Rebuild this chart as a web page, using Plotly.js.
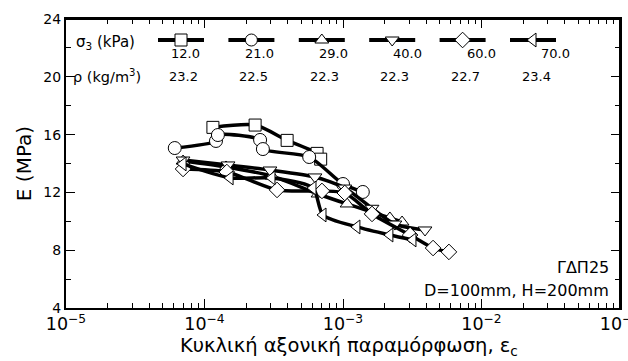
<!DOCTYPE html>
<html><head><meta charset="utf-8">
<script src="https://cdn.plot.ly/plotly-3.0.1.min.js"></script>
<style>html,body{margin:0;padding:0;background:#fff}</style>
</head><body><div id="chart" style="width:628px;height:361px"></div>
<script>
// ---- data ----
const sigma3Labels = ['12.0', '21.0', '29.0', '40.0', '60.0', '70.0'];
const rhoLabels = ['23.2', '22.5', '22.3', '22.3', '22.7', '23.4'];
const symbols = ['square', 'circle', 'triangle-up', 'triangle-down', 'diamond', 'triangle-left'];

const strain12 = [1.15e-4, 2.32e-4, 3.95e-4, 6.5e-4, 6.9e-4];
const E12 = [16.5, 16.66, 15.6, 14.7, 14.3];

const strain21 = [6.1e-5, 1.21e-4, 1.25e-4, 2.52e-4, 2.64e-4, 5.7e-4, 1.0e-3, 1.39e-3];
const E21 = [15.07, 15.56, 15.97, 15.63, 15.0, 14.45, 12.58, 12.03];

const strain29 = [7.0e-5, 1.43e-4, 3.07e-4, 6.6e-4, 1.07e-3, 1.62e-3, 2.18e-3, 2.67e-3];
const E29 = [14.17, 13.76, 13.13, 11.89, 11.2, 10.64, 10.23, 9.95];

const strain40 = [7.0e-5, 1.48e-4, 2.97e-4, 6.28e-4, 1.03e-3, 1.62e-3, 2.37e-3, 3.91e-3];
const E40 = [14.24, 13.9, 13.55, 13.07, 12.3, 10.9, 9.81, 9.4];

const strain60 = [7.0e-5, 1.45e-4, 3.34e-4, 7.05e-4, 1.03e-3, 1.62e-3, 3.05e-3, 4.47e-3, 5.82e-3];
const E60 = [13.62, 13.41, 12.17, 12.1, 11.96, 10.51, 9.05, 8.15, 7.88];

const strain70 = [7.0e-5, 1.53e-4, 3.07e-4, 6.07e-4, 7.17e-4, 1.26e-3, 2.18e-3, 3.2e-3];
const E70 = [13.97, 13.0, 13.0, 12.3, 10.44, 9.61, 9.05, 8.71];

const seriesX = [strain12, strain21, strain29, strain40, strain60, strain70];
const seriesY = [E12, E21, E29, E40, E60, E70];

// ---- layout helpers (plot area: x 66..620, y 19..308) ----
const PL = 66, PR = 620, PT = 19, PB = 308;
const PW = PR - PL, PH = PB - PT;
const X_RANGE = [-5, -1], Y_RANGE = [4, 24];
const XSPAN = X_RANGE[1] - X_RANGE[0], YSPAN = Y_RANGE[1] - Y_RANGE[0];
const pxToX = px => Math.pow(10, X_RANGE[0] + XSPAN * (px - PL) / PW);
const pyToY = py => Y_RANGE[1] - YSPAN * (py - PT) / PH;
const pxToPaper = px => (px - PL) / PW;
const pyToPaper = py => (PB - py) / PH;

const FONT = 'DejaVu Sans, Verdana, sans-serif';
const traces = [];

// ---- data series ----
seriesX.forEach((xs, i) => {
  traces.push({
    x: xs, y: seriesY[i], type: 'scatter', mode: 'lines+markers',
    line: {color: 'black', width: 3.5, shape: 'spline', smoothing: 0.7},
    marker: {symbol: symbols[i], size: i === 1 ? 13 : 12, color: 'white',
             line: {color: 'black', width: 1}},
    showlegend: false, hoverinfo: 'skip', cliponaxis: false
  });
});

// ---- legend key samples ----
const annotations = [];
symbols.forEach((s, i) => {
  const cx = 181 + i * 70.4;
  traces.push({
    x: [pxToX(cx - 23), pxToX(cx + 23)], y: [pyToY(40), pyToY(40)],
    type: 'scatter', mode: 'lines', line: {color: 'black', width: 4},
    showlegend: false, hoverinfo: 'skip'
  });
  traces.push({
    x: [pxToX(cx)], y: [pyToY(40)], type: 'scatter', mode: 'markers',
    marker: {symbol: s, size: 12, color: 'white', line: {color: 'black', width: 1}},
    showlegend: false, hoverinfo: 'skip'
  });
  annotations.push({xref: 'paper', yref: 'paper', x: pxToPaper(185 + i * 74), y: pyToPaper(53), text: sigma3Labels[i],
    showarrow: false, xanchor: 'center', yanchor: 'middle', font: {family: FONT, size: 13, color: 'black'}});
  annotations.push({xref: 'paper', yref: 'paper', x: pxToPaper(183 + i * 70.6), y: pyToPaper(76), text: rhoLabels[i],
    showarrow: false, xanchor: 'center', yanchor: 'middle', font: {family: FONT, size: 13, color: 'black'}});
});

annotations.push({xref: 'paper', yref: 'paper', x: pxToPaper(74), y: pyToPaper(42), text: 'σ<sub>3</sub> (kPa)', showarrow: false,
  xanchor: 'left', yanchor: 'middle', font: {family: FONT, size: 15, color: 'black'}});
annotations.push({xref: 'paper', yref: 'paper', x: pxToPaper(71), y: pyToPaper(76), text: 'ρ (kg/m<sup>3</sup>)', showarrow: false,
  xanchor: 'left', yanchor: 'middle', font: {family: FONT, size: 14.5, color: 'black'}});
annotations.push({xref: 'paper', yref: 'paper', x: pxToPaper(611), y: pyToPaper(267), text: 'ΓΔΠ25', showarrow: false,
  xanchor: 'right', yanchor: 'middle', font: {family: FONT, size: 16, color: 'black'}});
annotations.push({xref: 'paper', yref: 'paper', x: pxToPaper(611), y: pyToPaper(290), text: 'D=100mm, H=200mm', showarrow: false,
  xanchor: 'right', yanchor: 'middle', font: {family: FONT, size: 16, color: 'black'}});
annotations.push({xref: 'paper', yref: 'paper', x: pxToPaper(349), y: pyToPaper(346), text: 'Κυκλική αξονική παραμόρφωση, ε<sub>c</sub>', showarrow: false,
  xanchor: 'center', yanchor: 'middle', font: {family: FONT, size: 19.5, color: 'black'}});

// top and right frame edges (redundant with mirrored axis lines)
const shapes = [
  {type: 'line', xref: 'paper', yref: 'paper', x0: 0, x1: 1, y0: 1, y1: 1, line: {color: 'black', width: 2}},
  {type: 'line', xref: 'paper', yref: 'paper', x0: 1, x1: 1, y0: 0, y1: 1, line: {color: 'black', width: 2}}
];

const layout = {
  width: 628, height: 361,
  margin: {l: PL, r: 628 - PR, t: PT, b: 361 - PB},
  paper_bgcolor: 'white', plot_bgcolor: 'white',
  font: {family: FONT, color: 'black'},
  showlegend: false,
  xaxis: {
    type: 'log', range: X_RANGE, dtick: 1, exponentformat: 'power', ticklabeloverflow: 'allow',
    showgrid: false, zeroline: false, showline: true, linecolor: 'black', linewidth: 2, mirror: 'ticks',
    ticks: 'inside', ticklen: 9, tickwidth: 1, tickcolor: 'black',
    minor: {ticks: 'inside', ticklen: 5, tickwidth: 1, tickcolor: 'black', dtick: 'D1', showgrid: false},
    tickfont: {family: FONT, size: 14, color: 'black'}
  },
  yaxis: {
    range: Y_RANGE, dtick: 4, tick0: 4,
    showgrid: false, zeroline: false, showline: true, linecolor: 'black', linewidth: 2, mirror: 'ticks',
    ticks: 'inside', ticklen: 9, tickwidth: 1, tickcolor: 'black',
    minor: {ticks: 'inside', ticklen: 5, tickwidth: 1, tickcolor: 'black', dtick: 2, showgrid: false},
    tickfont: {family: FONT, size: 14, color: 'black'},
    title: {text: 'E (MPa)', font: {family: FONT, size: 20, color: 'black'}, standoff: 6}
  },
  shapes: shapes,
  annotations: annotations
};

Plotly.newPlot('chart', traces, layout, {staticPlot: true, displayModeBar: false});
</script>
</body></html>
